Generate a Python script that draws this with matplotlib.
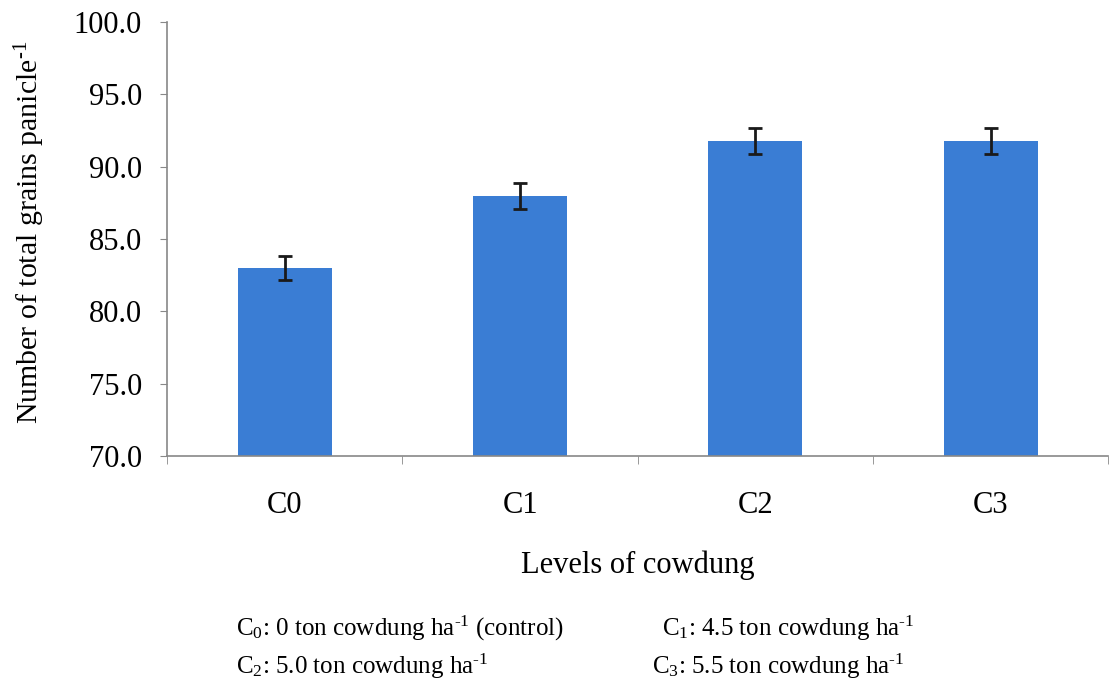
import matplotlib
matplotlib.use("Agg")
import matplotlib.pyplot as plt
import numpy as np

categories = ["C0", "C1", "C2", "C3"]
values = [83.0, 88.0, 91.8, 91.8]
errors = [0.85, 0.9, 0.9, 0.9]
yticks = [70.0, 75.0, 80.0, 85.0, 90.0, 95.0, 100.0]
notes = [
    r"C$_{\mathregular{0}}$: 0 ton cowdung ha$^{\text{-1}}$ (control)",
    r"C$_{\mathregular{1}}$: 4.5 ton cowdung ha$^{\text{-1}}$",
    r"C$_{\mathregular{2}}$: 5.0 ton cowdung ha$^{\text{-1}}$",
    r"C$_{\mathregular{3}}$: 5.5 ton cowdung ha$^{\text{-1}}$",
]

plt.rcParams['font.family'] = ['Liberation Serif', 'DejaVu Serif']
plt.rcParams['mathtext.fontset'] = 'custom'
plt.rcParams['mathtext.rm'] = 'Liberation Serif'
plt.rcParams['mathtext.it'] = 'Liberation Serif:italic'

fig = plt.figure(figsize=(11.14, 6.88), dpi=100)
ax = fig.add_axes([0.150, 0.337, 0.845, 0.631])

x = np.arange(len(categories))
ax.bar(x, values, width=0.4, color="#3A7DD4", zorder=2)
ax.errorbar(x, values, yerr=errors, fmt="none", ecolor="#1a1a1a", elinewidth=2,
            capsize=5, capthick=2, zorder=3)

ax.set_xlim(-0.5, len(categories) - 0.5)
ax.set_ylim(70, 100)
ax.set_yticks(yticks)
ax.set_yticklabels([f"{v:.1f}" for v in yticks], fontsize=22)
ax.set_xticks(x)
ax.set_xticklabels(categories, fontsize=22)
ax.tick_params(axis="x", length=0, pad=25)
ax.set_xticks(np.arange(len(categories) + 1) - 0.5, minor=True)
ax.tick_params(axis="x", which="minor", length=6, color="#888888", direction="out")
ax.tick_params(axis="y", length=5, color="#888888", direction="out", pad=13)

for s in ["top", "right"]:
    ax.spines[s].set_visible(False)
for s in ["left", "bottom"]:
    ax.spines[s].set_color("#888888")
    ax.spines[s].set_linewidth(1.2)

ax.set_ylabel(r"Number of total grains panicle$^{\text{-1}}$", fontsize=21.5)
ax.yaxis.set_label_coords(-0.128, 0.515)
ax.set_xlabel("Levels of cowdung", fontsize=22, labelpad=22)

fig.text(236/1114, 1 - 628/688, notes[0], fontsize=18, va="center", ha="left")
fig.text(662/1114, 1 - 628/688, notes[1], fontsize=18, va="center", ha="left")
fig.text(236/1114, 1 - 666/688, notes[2], fontsize=18, va="center", ha="left")
fig.text(652/1114, 1 - 666/688, notes[3], fontsize=18, va="center", ha="left")

fig.savefig("out.png", dpi=100)
